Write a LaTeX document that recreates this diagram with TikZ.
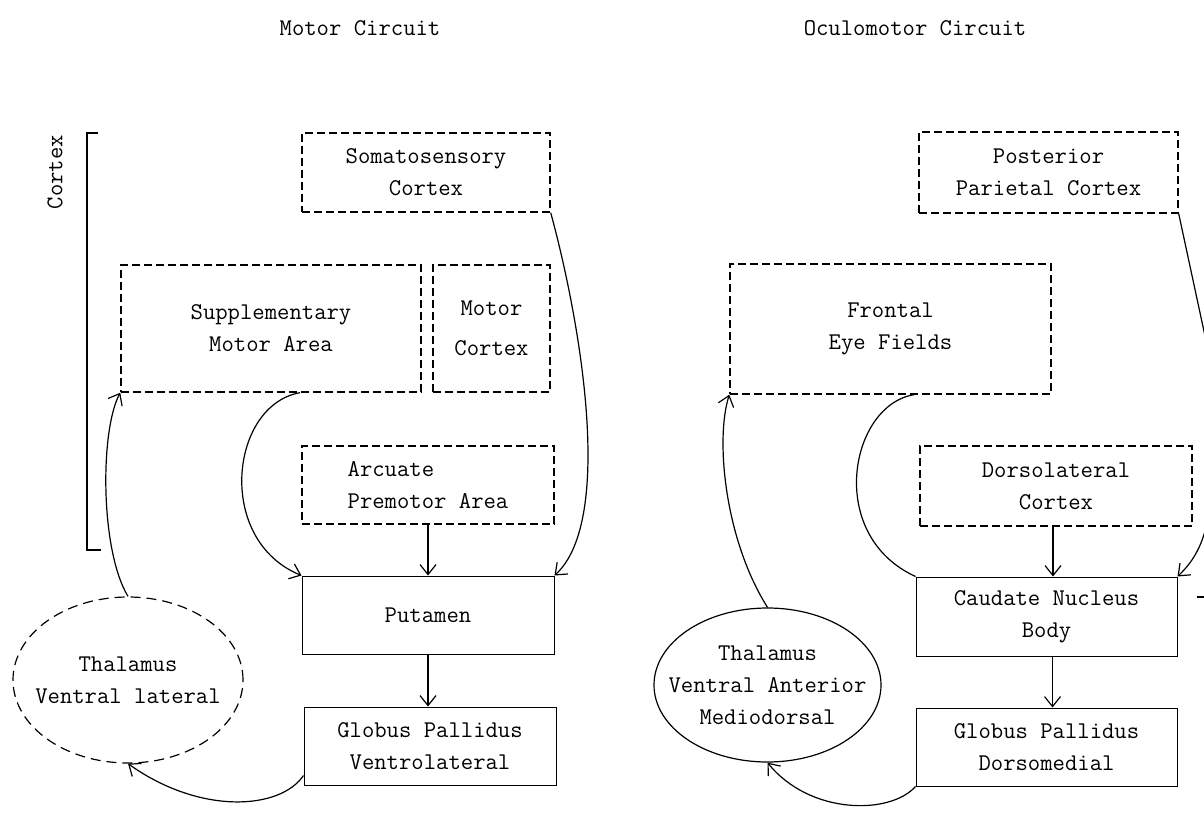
\documentclass[tikz,border=0pt]{standalone}
\usetikzlibrary{arrows.meta,shapes.geometric}
\begin{document}
\begin{tikzpicture}[x=0.5pt,y=-0.5pt,
  txt/.style={font=\fontsize{12}{16}\selectfont\ttfamily, align=center},
  dbox/.style={txt, draw, line width=0.7pt, dash pattern=on 4pt off 2pt, inner sep=0pt},
  sbox/.style={txt, draw, line width=0.5pt, inner sep=0pt},
  conn/.style={line width=0.6pt},
  arr/.style={conn, -{Straight Barb[length=5pt,width=8pt]}},
  oval/.style={txt, ellipse, draw, line width=0.6pt, inner xsep=-12pt, inner ysep=0pt},
]
\clip (0,0) rectangle (1204,813);
\fill[white] (0,0) rectangle (1204,813);

% titles
\node[txt] (t1) at (360,28) {Motor Circuit};
\node[txt] (t2) at (915,28) {Oculomotor Circuit};

% cortex bracket
\node[txt, rotate=90] (cortexlbl) at (55,172) {Cortex};
\draw[line width=0.6pt] (98,133) -- (87,133) -- (87,550) -- (101,550);

% ---- Motor circuit ----
\node[dbox, minimum width=124pt, minimum height=39.5pt] (soma) at (426,172.5) {Somatosensory\\Cortex};
\node[dbox, minimum width=150pt, minimum height=63.5pt] (sma) at (271,328.5) {Supplementary\\Motor Area};
\node[dbox, minimum width=58.5pt, minimum height=63.5pt] (motor) at (491.5,328.5) {Motor\\[4pt]Cortex};
\node[dbox, align=left, minimum width=126pt, minimum height=39pt] (arcuate) at (428,485) {Arcuate\\Premotor Area};
\node[sbox, minimum width=126pt, minimum height=39pt] (putamen) at (428,615) {Putamen};
\node[sbox, minimum width=126pt, minimum height=39pt] (gpv) at (430,746) {Globus Pallidus\\Ventrolateral};
\node[oval, dash pattern=on 5pt off 3pt, minimum width=115pt, minimum height=83pt] (thal1) at (128,680) {Thalamus\\Ventral lateral};

\draw[arr] ([xshift=14.5pt]sma.south) .. controls (230,405) and (215,540) .. (putamen.north west);
\draw[arr] (soma.south east) .. controls (580,320) and (615,520) .. (putamen.north east);
\draw[arr] (arcuate.south) -- (putamen.north);
\draw[arr] (putamen.south) -- (putamen.south |- gpv.north);
\draw[arr] ([yshift=5pt]gpv.south west) .. controls (280,810) and (200,815) .. (thal1.south);
\draw[arr] (thal1.north) .. controls (100,550) and (100,430) .. (sma.south west);

% ---- Oculomotor circuit ----
\node[dbox, minimum width=129.5pt, minimum height=40.5pt] (ppc) at (1048.5,172.5) {Posterior\\Parietal Cortex};
\node[dbox, minimum width=160.5pt, minimum height=65pt] (fef) at (890.5,329) {Frontal\\Eye Fields};
\node[dbox, minimum width=136pt, minimum height=40pt] (dlc) at (1056,486) {Dorsolateral\\Cortex};
\node[sbox, minimum width=130.5pt, minimum height=39.5pt] (cnb) at (1046.5,616.5) {Caudate Nucleus\\Body};
\node[sbox, minimum width=130.5pt, minimum height=39pt] (gpd) at (1046.5,747) {Globus Pallidus\\Dorsomedial};
\node[oval, minimum width=113.5pt, minimum height=77pt] (thal2) at (767.5,685) {Thalamus\\Ventral Anterior\\Mediodorsal};

\coordinate (ppcout) at (1208,350);
\coordinate (cnbin) at (1210,505);
\coordinate (tk) at (1197,597);

\draw[conn] ([xshift=11.75pt]fef.south) .. controls (850,405) and (825,535) .. (cnb.north west);
\draw[conn] (ppc.south east) -- (ppcout);
\draw[arr] (cnbin) .. controls (1206,540) and (1195,560) .. (cnb.north east);
\draw[conn] (tk) -- ++(10,0);
\draw[arr] ([xshift=-1.5pt]dlc.south) -- ([xshift=-1.5pt]dlc.south |- cnb.north);
\draw[arr] ([xshift=3pt]cnb.south) -- ([xshift=3pt]gpd.north);
\draw[arr] (gpd.south west) .. controls (890,815) and (810,815) .. (thal2.south);
\draw[arr] (thal2.north) .. controls (725,540) and (715,440) .. (fef.south west);
\end{tikzpicture}
\end{document}
